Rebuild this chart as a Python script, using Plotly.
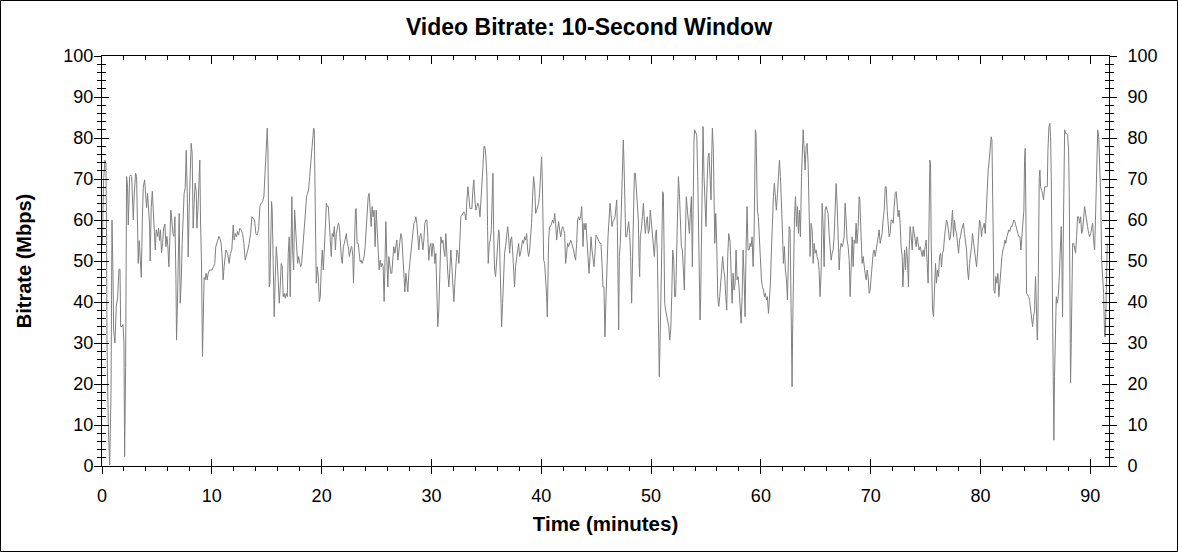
import plotly.graph_objects as go

# bitrate samples, split by stretch of the timeline
# (time in minutes, bitrate in Mbps)
t_00_11 = [0.03, 0.15, 0.27, 0.36, 0.42, 0.45, 0.58, 0.70, 0.82, 0.91,
           1.00, 1.06, 1.18, 1.30, 1.42, 1.55, 1.64, 1.70, 1.82, 1.91,
           2.00, 2.06, 2.15, 2.24, 2.33, 2.39, 2.52, 2.61, 2.70, 2.79,
           2.85, 2.94, 3.06, 3.15, 3.24, 3.30, 3.39, 3.48, 3.58, 3.67,
           3.76, 3.88, 3.97, 4.06, 4.15, 4.24, 4.33, 4.39, 4.48, 4.58,
           4.67, 4.76, 4.85, 4.94, 5.06, 5.15, 5.24, 5.33, 5.42, 5.52,
           5.61, 5.73, 5.82, 5.91, 6.00, 6.09, 6.18, 6.27, 6.36, 6.45,
           6.55, 6.64, 6.73, 6.79, 6.88, 6.97, 7.03, 7.12, 7.21, 7.30,
           7.39, 7.48, 7.58, 7.67, 7.76, 7.85, 7.94, 8.03, 8.12, 8.21,
           8.30, 8.39, 8.48, 8.58, 8.64, 8.73, 8.82, 8.91, 8.97, 9.06,
           9.15, 9.21, 9.30, 9.39, 9.48, 9.58, 9.67, 9.79, 9.91, 10.03,
           10.15, 10.27, 10.36, 10.45, 10.55, 10.64, 10.73, 10.85, 10.94, 11.03,
           11.12, 11.21]
r_00_11 = [54, 70, 74.6, 73.8, 55, 31, 9, 0.3, 17.7, 60,
           47, 33, 30, 39, 41, 48, 48, 34, 34, 34.5,
           30, 2.3, 24, 70.6, 68, 58.8, 70.6, 71, 70.6, 65.7,
           60, 66.5, 71.4, 70.6, 60.8, 49.4, 55, 49.4, 46, 60,
           68, 69.8, 65, 63, 66.5, 62.4, 59, 50, 63, 67,
           62.4, 58, 52.7, 57.6, 56, 58, 55, 57.6, 52, 54.3,
           58, 59, 53.5, 56, 53.5, 48.6, 56, 62.4, 60, 56.7,
           56, 60.8, 46, 30.7, 41, 53.5, 61.6, 39.7, 44.6, 54.3,
           62.4, 66.5, 68, 77, 67, 51, 63, 73.8, 78.7, 76.3,
           58, 64, 69, 67, 58, 62.4, 72, 74.6, 60, 50,
           26.7, 36.4, 46, 45.4, 47, 45.4, 47, 47.8, 47.8, 47.8,
           48.6, 49.4, 53.5, 54.3, 54.7, 56, 55.6, 54.3, 51, 45.4,
           48.6, 51]

t_11_22 = [11.28, 11.43, 11.58, 11.70, 11.82, 11.95, 12.04, 12.13, 12.25, 12.34,
           12.43, 12.55, 12.67, 12.80, 12.92, 13.04, 13.16, 13.28, 13.40, 13.53,
           13.65, 13.77, 13.89, 14.01, 14.13, 14.26, 14.38, 14.50, 14.62, 14.74,
           14.86, 14.95, 15.05, 15.11, 15.17, 15.23, 15.29, 15.38, 15.44, 15.50,
           15.56, 15.62, 15.68, 15.78, 15.87, 15.96, 16.05, 16.14, 16.23, 16.32,
           16.41, 16.50, 16.59, 16.69, 16.78, 16.87, 16.96, 17.05, 17.14, 17.23,
           17.29, 17.36, 17.45, 17.54, 17.63, 17.72, 17.81, 17.90, 17.99, 18.09,
           18.18, 18.27, 18.36, 18.45, 18.54, 18.63, 18.72, 18.81, 18.91, 19.00,
           19.09, 19.18, 19.27, 19.33, 19.39, 19.45, 19.51, 19.60, 19.70, 19.79,
           19.88, 19.97, 20.06, 20.15, 20.24, 20.33, 20.43, 20.52, 20.61, 20.70,
           20.79, 20.88, 20.97, 21.06, 21.16, 21.25, 21.34, 21.43, 21.52, 21.61,
           21.70, 21.79, 21.88, 21.98, 22.07, 22.16, 22.25, 22.34, 22.43, 22.52,
           22.61, 22.70]
r_11_22 = [52.7, 51.9, 49.4, 51.9, 52.7, 58.8, 55.1, 56.7, 55.9, 57.2,
           56.3, 58, 57.6, 56.7, 54.3, 50.2, 51.9, 52.7, 54.3, 56.7,
           60.8, 60.4, 60, 56.7, 56.3, 57.6, 63.3, 64.1, 64.5, 65.7,
           72.2, 80.3, 82.4, 77.1, 58.4, 43.7, 44.6, 58.4, 64.5, 62.4,
           49.4, 42.9, 36.4, 46.2, 53.5, 50.2, 42.9, 39.7, 43.7, 49.4,
           48.6, 41.3, 42.1, 40.9, 42.1, 41.3, 51.9, 55.9, 41.3, 60,
           65.7, 52.7, 47.8, 62.4, 57.6, 51.1, 49.4, 51.1, 50.2, 48.6,
           49.4, 52.7, 53.5, 57.6, 61.6, 65.7, 66.5, 67.3, 70.6, 73.8,
           77.1, 80.3, 82.4, 82, 72.2, 54.3, 44.6, 48.6, 46.2, 40.1,
           41.3, 48.6, 52.7, 47.8, 51.9, 57.6, 64.1, 63.3, 63.3, 60,
           56.7, 51.1, 56.7, 55.9, 58.4, 52.7, 56.7, 58.4, 59.2, 58.4,
           54.3, 51.1, 49.4, 53.5, 54.3, 55.9, 56.7, 54.3, 53.5, 51.1,
           52.7, 53.5]

t_22_34 = [22.75, 22.84, 22.90, 22.99, 23.08, 23.14, 23.23, 23.33, 23.42, 23.51,
           23.60, 23.69, 23.78, 23.87, 23.96, 24.05, 24.15, 24.24, 24.33, 24.42,
           24.51, 24.60, 24.69, 24.78, 24.87, 24.97, 25.06, 25.15, 25.24, 25.33,
           25.42, 25.51, 25.60, 25.69, 25.79, 25.85, 25.94, 26.03, 26.12, 26.21,
           26.30, 26.39, 26.48, 26.57, 26.67, 26.76, 26.85, 26.94, 27.03, 27.12,
           27.21, 27.30, 27.39, 27.49, 27.58, 27.67, 27.76, 27.85, 27.94, 28.03,
           28.12, 28.21, 28.31, 28.40, 28.49, 28.58, 28.67, 28.76, 28.85, 28.94,
           29.03, 29.13, 29.22, 29.31, 29.40, 29.49, 29.58, 29.67, 29.76, 29.85,
           29.95, 30.04, 30.13, 30.22, 30.31, 30.40, 30.49, 30.58, 30.67, 30.77,
           30.86, 30.95, 31.04, 31.13, 31.22, 31.31, 31.40, 31.49, 31.59, 31.68,
           31.77, 31.86, 31.95, 32.04, 32.13, 32.22, 32.32, 32.41, 32.50, 32.59,
           32.68, 32.77, 32.86, 32.95, 33.04, 33.14, 33.23, 33.32, 33.41, 33.50,
           33.59, 33.68, 33.77, 33.86, 33.96, 34.05, 34.14]
r_22_34 = [53.5, 51.1, 44.6, 54.3, 62.4, 62.8, 54.3, 54.3, 51.9, 49.8,
           50.2, 49.4, 50.2, 51.1, 53.5, 57.6, 60, 65.7, 66.5, 62.4,
           58.4, 63.3, 60.8, 62.4, 53.5, 62.4, 58.4, 51.9, 47.8, 50.2,
           48.6, 49.4, 48.6, 40.1, 55.9, 59.6, 50.2, 43.7, 51.1, 49.4,
           47, 47, 49.4, 53.5, 51.9, 54.3, 55.1, 50.2, 52.7, 54.3,
           56.7, 55.9, 51.1, 45.4, 42.5, 47, 44.6, 42.5, 47, 49.4,
           51.1, 54.3, 57.6, 59.2, 59.6, 60.8, 59.2, 56.7, 52.7, 55.9,
           56.7, 55.1, 52.7, 55.1, 59.2, 60, 60, 55.9, 50.2, 53.5,
           54.3, 51.1, 54.3, 53.5, 49.4, 51.9, 42.9, 34, 38, 49.4,
           55.9, 54.3, 55.1, 52.7, 51.1, 56.7, 49.4, 47, 43.7, 47.8,
           52.7, 48.6, 42.9, 40.1, 44.6, 47.8, 52.7, 51.9, 49.4, 55.1,
           60.8, 61.2, 61.6, 62, 61.6, 60, 64.9, 68.1, 65.7, 62.8,
           62.8, 62.8, 67.3, 69.8, 64.9, 62.4, 63.3]

t_34_45 = [34.23, 34.32, 34.42, 34.51, 34.60, 34.69, 34.78, 34.87, 34.96, 35.05,
           35.11, 35.17, 35.27, 35.36, 35.45, 35.54, 35.60, 35.66, 35.75, 35.84,
           35.93, 36.02, 36.12, 36.18, 36.24, 36.30, 36.39, 36.48, 36.57, 36.66,
           36.75, 36.84, 36.94, 37.03, 37.12, 37.21, 37.30, 37.39, 37.48, 37.57,
           37.66, 37.76, 37.85, 37.94, 38.03, 38.12, 38.21, 38.30, 38.39, 38.48,
           38.58, 38.67, 38.76, 38.85, 38.94, 39.03, 39.12, 39.21, 39.30, 39.40,
           39.49, 39.58, 39.67, 39.76, 39.85, 39.94, 40.03, 40.09, 40.15, 40.22,
           40.31, 40.40, 40.49, 40.55, 40.61, 40.67, 40.76, 40.85, 40.94, 41.04,
           41.13, 41.22, 41.31, 41.40, 41.49, 41.58, 41.67, 41.77, 41.86, 41.95,
           42.04, 42.13, 42.22, 42.31, 42.40, 42.49, 42.59, 42.68, 42.77, 42.86,
           42.95, 43.04, 43.13, 43.22, 43.31, 43.41, 43.50, 43.59, 43.68, 43.74,
           43.80, 43.89, 43.98, 44.07, 44.16, 44.25, 44.35, 44.44, 44.53, 44.62,
           44.71, 44.80, 44.89, 44.98, 45.08, 45.17, 45.26, 45.35, 45.44, 45.53,
           45.62]
r_34_45 = [64.1, 63.3, 60.8, 64.9, 68.1, 73, 77.9, 77.9, 75.4, 70.6,
           58.4, 49.4, 54.3, 55.1, 57.6, 65.7, 71.4, 57.6, 47.8, 46.2,
           49.4, 51.9, 57.6, 56.7, 49.4, 38, 34, 39.7, 47, 51.9,
           53.5, 56.7, 58.4, 55.9, 51.9, 55.1, 55.9, 52.7, 48.6, 43.7,
           48.6, 50.2, 52.7, 54.3, 51.1, 51.9, 53.5, 55.1, 54.3, 55.9,
           55.1, 56.7, 52.7, 51.1, 52.7, 55.9, 59.2, 65.7, 70.6, 68.1,
           61.6, 62.4, 63.3, 64.1, 66.5, 72.2, 75.4, 70.6, 60.8, 50.2,
           49.4, 46.2, 41.3, 36.4, 46.2, 55.1, 58.4, 58.4, 59.2, 60,
           59.2, 61.6, 59.2, 55.1, 57.6, 59.6, 57.6, 55.9, 57.6, 58.4,
           57.6, 56.7, 49.4, 52.7, 54.3, 53.5, 54.3, 55.1, 54.3, 53.5,
           52.7, 51.1, 50.2, 54.3, 60, 60.8, 60, 60.8, 63.3, 59.2,
           53.5, 59.2, 57.6, 59.2, 55.9, 52.7, 47, 51.1, 55.9, 52.7,
           51.1, 48.6, 51.9, 56.3, 55.9, 55.1, 54.7, 54.3, 54.3, 49.4,
           43.7]

t_45_57 = [45.71, 45.80, 45.90, 45.99, 46.08, 46.17, 46.26, 46.35, 46.44, 46.53,
           46.63, 46.72, 46.81, 46.87, 46.93, 46.99, 47.05, 47.11, 47.20, 47.29,
           47.38, 47.47, 47.53, 47.60, 47.69, 47.78, 47.87, 47.96, 48.05, 48.14,
           48.23, 48.29, 48.39, 48.48, 48.57, 48.66, 48.75, 48.84, 48.90, 48.96,
           49.02, 49.11, 49.21, 49.30, 49.39, 49.48, 49.57, 49.66, 49.75, 49.84,
           49.93, 50.03, 50.12, 50.21, 50.30, 50.39, 50.48, 50.57, 50.63, 50.69,
           50.75, 50.81, 50.88, 50.94, 51.00, 51.06, 51.12, 51.18, 51.24, 51.33,
           51.42, 51.51, 51.61, 51.70, 51.79, 51.88, 51.97, 52.06, 52.15, 52.24,
           52.33, 52.40, 52.49, 52.58, 52.67, 52.76, 52.85, 52.94, 53.03, 53.12,
           53.21, 53.31, 53.40, 53.49, 53.58, 53.67, 53.76, 53.85, 53.91, 53.97,
           54.06, 54.16, 54.25, 54.34, 54.40, 54.46, 54.52, 54.58, 54.67, 54.73,
           54.82, 54.91, 55.00, 55.10, 55.19, 55.28, 55.37, 55.46, 55.52, 55.58,
           55.67, 55.73, 55.80, 55.89, 55.98, 56.07, 56.16, 56.25, 56.34, 56.43,
           56.52, 56.62, 56.71, 56.80, 56.89, 56.98, 57.07, 57.16]
r_45_57 = [43.7, 31.5, 41.3, 52.7, 55.9, 60, 64.1, 61.6, 58.4, 59.6,
           60, 60.8, 63.3, 64.9, 58.4, 40.5, 33.2, 51.1, 54.3, 62.4,
           70.6, 79.5, 74.6, 66.5, 55.9, 55.9, 57.6, 59.6, 56.7, 51.1,
           39.7, 46.2, 62.4, 71.4, 71.4, 67.3, 62.4, 60, 51.1, 46.2,
           55.9, 57.6, 60.8, 64.1, 60, 56.7, 59.2, 60.8, 56.7, 57.6,
           62.4, 59.2, 56.7, 54.3, 51.1, 55.9, 57.6, 51.9, 38, 29.9,
           21.8, 29.1, 36.4, 47.8, 57.6, 66.9, 66.5, 54.3, 39.7, 38,
           36.4, 34.8, 34, 30.7, 33.2, 41.3, 52.7, 50.2, 41.3, 41.3,
           52.7, 62.4, 70.6, 66.5, 57.6, 53.5, 52.7, 47.8, 42.9, 55.9,
           65.7, 62.4, 59.2, 56.7, 61.6, 65.7, 48.6, 70.6, 79.5, 82,
           81.1, 80.7, 70.6, 54.3, 52.7, 35.6, 41.3, 52.7, 70.6, 82.8,
           70.6, 62.4, 58.4, 68.9, 75.4, 76.3, 68.9, 64.9, 75.4, 82.4,
           77.1, 66.5, 54.3, 61.6, 54.3, 41.3, 38.9, 41.3, 45.4, 47.8,
           51.1, 47.8, 46.2, 41.3, 38, 51.1, 56.7, 55.1]

t_57_68 = [57.19, 57.28, 57.38, 57.47, 57.56, 57.65, 57.74, 57.83, 57.92, 58.01,
           58.11, 58.20, 58.29, 58.38, 58.47, 58.56, 58.65, 58.74, 58.83, 58.93,
           59.02, 59.11, 59.20, 59.29, 59.38, 59.44, 59.50, 59.56, 59.62, 59.68,
           59.77, 59.87, 59.96, 60.05, 60.14, 60.23, 60.32, 60.41, 60.50, 60.59,
           60.69, 60.78, 60.87, 60.96, 61.05, 61.14, 61.23, 61.32, 61.41, 61.51,
           61.60, 61.69, 61.78, 61.87, 61.96, 62.05, 62.14, 62.23, 62.33, 62.42,
           62.51, 62.57, 62.66, 62.72, 62.78, 62.84, 62.90, 62.97, 63.06, 63.15,
           63.24, 63.33, 63.42, 63.51, 63.60, 63.70, 63.79, 63.85, 63.94, 64.03,
           64.12, 64.21, 64.30, 64.39, 64.48, 64.57, 64.67, 64.76, 64.85, 64.94,
           65.03, 65.12, 65.21, 65.30, 65.39, 65.49, 65.58, 65.67, 65.76, 65.85,
           65.94, 66.03, 66.12, 66.21, 66.31, 66.40, 66.49, 66.58, 66.67, 66.76,
           66.85, 66.94, 67.03, 67.13, 67.22, 67.31, 67.40, 67.49, 67.58, 67.67,
           67.76, 67.85, 67.95, 68.04, 68.13, 68.22, 68.31, 68.40, 68.49, 68.58]
r_57_68 = [55.1, 47.8, 39.7, 47, 42.9, 44.6, 52.7, 45.4, 46.2, 43.7,
           38, 34.8, 41.3, 52.7, 46.2, 36.4, 52.7, 63.3, 52.7, 52.7,
           54.3, 53.5, 55.9, 48.6, 55.9, 68.9, 82, 81.1, 72.2, 62.4,
           60.8, 54.3, 48.6, 45.4, 43.7, 42.9, 41.3, 42.1, 40.5, 41.3,
           37.2, 40.5, 44.6, 52.7, 60.8, 65.7, 68.9, 66.5, 62.4, 66.5,
           70.6, 74.6, 70.6, 60.8, 57.6, 49.4, 53.5, 47.8, 45.4, 40.5,
           50.2, 58.4, 57.6, 38, 21.8, 19.3, 34.8, 52.7, 60.8, 65.7,
           58.4, 63.3, 56.7, 62.4, 55.9, 70.6, 79.5, 82, 77.1, 72.2,
           77.9, 78.7, 73.8, 60, 51.1, 59.2, 57.6, 49.4, 54.3, 51.9,
           52.7, 51.1, 50.2, 47.8, 41.3, 47.8, 64.1, 58.4, 48.6, 62.4,
           63.3, 62.4, 61.6, 56.7, 52.7, 50.2, 51.9, 52.7, 55.9, 61.6,
           68.9, 64.1, 54.3, 47.8, 52.7, 54.3, 53.5, 54.3, 55.9, 64.1,
           60, 55.1, 53.5, 50.2, 41.3, 51.9, 55.9, 48.6, 55.1, 54.3]

t_68_80 = [68.67, 68.76, 68.86, 68.95, 69.01, 69.07, 69.13, 69.22, 69.31, 69.40,
           69.49, 69.59, 69.68, 69.77, 69.86, 69.95, 70.04, 70.13, 70.22, 70.31,
           70.41, 70.50, 70.59, 70.68, 70.77, 70.86, 70.95, 71.04, 71.13, 71.23,
           71.32, 71.41, 71.50, 71.59, 71.68, 71.77, 71.86, 71.95, 72.05, 72.14,
           72.23, 72.32, 72.41, 72.50, 72.59, 72.68, 72.77, 72.87, 72.93, 72.99,
           73.08, 73.17, 73.26, 73.35, 73.44, 73.50, 73.59, 73.69, 73.78, 73.87,
           73.96, 74.05, 74.14, 74.23, 74.32, 74.41, 74.51, 74.60, 74.69, 74.78,
           74.87, 74.96, 75.05, 75.14, 75.23, 75.33, 75.39, 75.45, 75.51, 75.57,
           75.63, 75.72, 75.81, 75.90, 75.99, 76.08, 76.18, 76.27, 76.36, 76.45,
           76.54, 76.63, 76.72, 76.81, 76.90, 77.00, 77.09, 77.18, 77.27, 77.36,
           77.45, 77.54, 77.63, 77.72, 77.82, 77.91, 78.00, 78.09, 78.18, 78.27,
           78.36, 78.45, 78.54, 78.64, 78.73, 78.82, 78.91, 79.00, 79.09, 79.18,
           79.27, 79.36, 79.46, 79.55, 79.64, 79.73, 79.82, 79.91, 80.00, 80.09]
r_68_80 = [59.2, 54.3, 58.4, 65.7, 64.9, 60, 52.7, 49.4, 51.1, 48.6,
           47, 45.4, 47.8, 46.2, 42.1, 42.9, 46.2, 48.6, 51.9, 52.7,
           51.1, 52.7, 54.3, 56.7, 57.6, 54.3, 55.9, 56.7, 60, 62.4,
           68.1, 68.1, 62.4, 59.2, 55.9, 56.7, 60, 60, 59.2, 63.3,
           66.5, 66.9, 64.1, 60.8, 62.4, 59.2, 53.5, 51.1, 43.7, 46.2,
           52.7, 47.8, 53.5, 50.2, 43.7, 52.7, 58.4, 55.9, 52.7, 58.4,
           56.7, 55.1, 53.5, 55.9, 54.3, 52.7, 53.5, 51.9, 51.1, 52.7,
           51.1, 53.5, 55.1, 49.4, 44.6, 62.4, 74.6, 73.8, 54.3, 39.7,
           38, 36.4, 41.3, 49.4, 44.6, 47.8, 46.2, 51.1, 51.9, 48.6,
           51.9, 52.7, 55.9, 59.2, 60, 59.2, 57.6, 55.1, 55.9, 60,
           62.4, 55.9, 60, 57.6, 56.7, 54.3, 51.9, 55.1, 55.9, 57.6,
           58.4, 59.2, 56.7, 54.3, 52.7, 47.8, 45.4, 49.4, 51.1, 53.5,
           56.7, 54.3, 51.9, 50.2, 48.6, 51.9, 55.1, 60, 59.2, 55.9]

t_80_92 = [80.16, 80.25, 80.34, 80.43, 80.52, 80.61, 80.70, 80.79, 80.88, 80.97,
           81.04, 81.10, 81.16, 81.22, 81.31, 81.40, 81.49, 81.58, 81.67, 81.76,
           81.86, 81.95, 82.04, 82.13, 82.22, 82.31, 82.40, 82.49, 82.58, 82.68,
           82.77, 82.86, 82.95, 83.04, 83.13, 83.22, 83.31, 83.40, 83.50, 83.59,
           83.68, 83.77, 83.86, 83.95, 84.01, 84.07, 84.13, 84.19, 84.29, 84.38,
           84.47, 84.56, 84.65, 84.74, 84.83, 84.92, 85.01, 85.11, 85.17, 85.23,
           85.29, 85.35, 85.41, 85.47, 85.56, 85.65, 85.74, 85.84, 85.93, 86.02,
           86.08, 86.14, 86.23, 86.32, 86.38, 86.44, 86.50, 86.56, 86.62, 86.68,
           86.74, 86.81, 86.90, 86.99, 87.08, 87.17, 87.26, 87.35, 87.41, 87.47,
           87.53, 87.59, 87.66, 87.75, 87.84, 87.93, 88.02, 88.08, 88.14, 88.20,
           88.26, 88.32, 88.39, 88.48, 88.57, 88.66, 88.75, 88.84, 88.93, 89.02,
           89.12, 89.21, 89.30, 89.39, 89.48, 89.57, 89.66, 89.75, 89.85, 89.94,
           90.03, 90.12, 90.21, 90.30, 90.39, 90.49, 90.58, 90.67, 90.76, 90.85,
           90.94, 91.03, 91.12, 91.21, 91.30, 91.36, 91.42, 91.48, 91.54]
r_80_92 = [57.6, 58.4, 59.2, 56.7, 62.4, 66.5, 72.2, 74.6, 77.1, 80.3,
           79.5, 70.6, 58.4, 42.9, 42.1, 46.2, 44.6, 47, 41.3, 44.6,
           49.4, 51.1, 52.7, 53.5, 55.1, 54.3, 55.9, 56.7, 57.6, 57.2,
           58.4, 58.4, 59.2, 60, 59.6, 58.4, 57.6, 56.7, 55.9, 55.9,
           52.7, 56.7, 59.2, 62.4, 74.6, 77.5, 62.4, 42.1, 41.7, 41.3,
           40.5, 38, 34.8, 34, 36.4, 38, 46.2, 38, 30.7, 36.4,
           58.4, 70.6, 72.2, 68.1, 67.3, 66.5, 64.9, 68.1, 68.1, 68.1,
           68.1, 77.1, 82.8, 83.6, 80.3, 70.6, 51.9, 34, 13.7, 6.3,
           21.8, 36.4, 41.3, 39.7, 41.3, 46.2, 51.9, 58.4, 50.2, 36.4,
           54.3, 70.6, 82, 81.1, 81.1, 80.7, 77.1, 66.5, 46.2, 20.2,
           29.9, 46.2, 54.3, 54.3, 52.7, 51.9, 55.9, 60.8, 60.8, 59.2,
           60.8, 56.7, 57.6, 60, 63.3, 61.6, 59.2, 58.4, 56.7, 55.9,
           56.7, 58.4, 59.2, 55.1, 52.7, 62.4, 75.4, 82, 80.3, 74.6,
           66.5, 50.2, 46.2, 42.1, 31.5, 31.5, 38, 51.9, 54.3]

minutes = t_00_11 + t_11_22 + t_22_34 + t_34_45 + t_45_57 + t_57_68 + t_68_80 + t_80_92
mbps = r_00_11 + r_11_22 + r_22_34 + r_34_45 + r_45_57 + r_57_68 + r_68_80 + r_80_92

x_ticks = [0, 10, 20, 30, 40, 50, 60, 70, 80, 90]
y_ticks = [0, 10, 20, 30, 40, 50, 60, 70, 80, 90, 100]

W, H = 1178, 552
ML, MR, MT, MB = 102, 69, 56, 86
FONT = "Liberation Sans, Arial, sans-serif"

fig = go.Figure()
fig.add_trace(go.Scatter(x=minutes, y=mbps, mode="lines",
                         line=dict(color="#808080", width=1),
                         hoverinfo="skip", showlegend=False))
# empty traces so the extra tick axes get drawn
for xa, ya in [("x2", "y"), ("x3", "y"), ("x", "y2"), ("x", "y3"), ("x", "y4")]:
    fig.add_trace(go.Scatter(x=[], y=[], xaxis=xa, yaxis=ya, showlegend=False))

base = dict(showgrid=False, zeroline=False, linecolor="black", linewidth=1,
            tickcolor="black", tickwidth=1, tickfont=dict(family=FONT, size=18, color="black"))
xr = [0, 91.7]
yr = [0, 100]

fig.update_layout(
    width=W, height=H,
    margin=dict(l=ML, r=MR, t=MT, b=MB),
    paper_bgcolor="white", plot_bgcolor="white",
    font=dict(family=FONT, color="black"),
    title=dict(text="<b>Video Bitrate: 10-Second Window</b>", x=0.5, xref="container",
               y=1 - 27 / H, yref="container", yanchor="middle",
               font=dict(family=FONT, size=23, color="black")),
    xaxis=dict(base, range=xr, tickmode="array", tickvals=x_ticks, ticks="outside", ticklen=7,
               ticklabelstandoff=6, showline=True,
               minor=dict(ticks="outside", ticklen=4, dtick=2, tickcolor="black"),
               title=dict(text="<b>Time (minutes)</b>", standoff=12,
                          font=dict(family=FONT, size=20.5, color="black"))),
    xaxis2=dict(base, range=xr, overlaying="x", side="top", anchor="y", tickmode="array",
                tickvals=x_ticks, ticks="inside", ticklen=8, showticklabels=False, showline=True,
                minor=dict(ticks="inside", ticklen=4, dtick=2, tickcolor="black")),
    xaxis3=dict(base, range=xr, overlaying="x", side="bottom", anchor="y", tickmode="array",
                tickvals=x_ticks, ticks="inside", ticklen=7, showticklabels=False, showline=False),
    yaxis=dict(base, range=yr, tickmode="array", tickvals=y_ticks, ticks="outside", ticklen=7,
               ticklabelstandoff=-3, showline=True,
               minor=dict(ticks="outside", ticklen=4, dtick=2, tickcolor="black"),
               title=dict(text="<b>Bitrate (Mbps)</b>", standoff=26,
                          font=dict(family=FONT, size=20, color="black"))),
    yaxis2=dict(base, range=yr, overlaying="y", side="right", anchor="x", tickmode="array",
                tickvals=y_ticks, ticks="outside", ticklen=7, ticklabelstandoff=7, showline=True,
                minor=dict(ticks="outside", ticklen=4, dtick=2, tickcolor="black")),
    yaxis3=dict(base, range=yr, overlaying="y", side="left", anchor="x", tickmode="array",
                tickvals=y_ticks, ticks="inside", ticklen=7, showticklabels=False, showline=False,
                minor=dict(ticks="inside", ticklen=4, dtick=2, tickcolor="black")),
    yaxis4=dict(base, range=yr, overlaying="y", side="right", anchor="x", tickmode="array",
                tickvals=y_ticks, ticks="inside", ticklen=7, showticklabels=False, showline=False,
                minor=dict(ticks="inside", ticklen=4, dtick=2, tickcolor="black")),
)

# thin frame round the whole picture
pw, ph = W - ML - MR, H - MT - MB
fig.add_shape(type="rect", xref="paper", yref="paper",
              x0=-(ML - 0.5) / pw, x1=1 + (MR - 0.5) / pw,
              y0=-(MB - 0.5) / ph, y1=1 + (MT - 0.5) / ph,
              line=dict(color="black", width=1))

fig.write_html("out.html", config={"displayModeBar": False},
               post_script="document.body.style.margin='0';document.body.style.overflow='hidden';")
